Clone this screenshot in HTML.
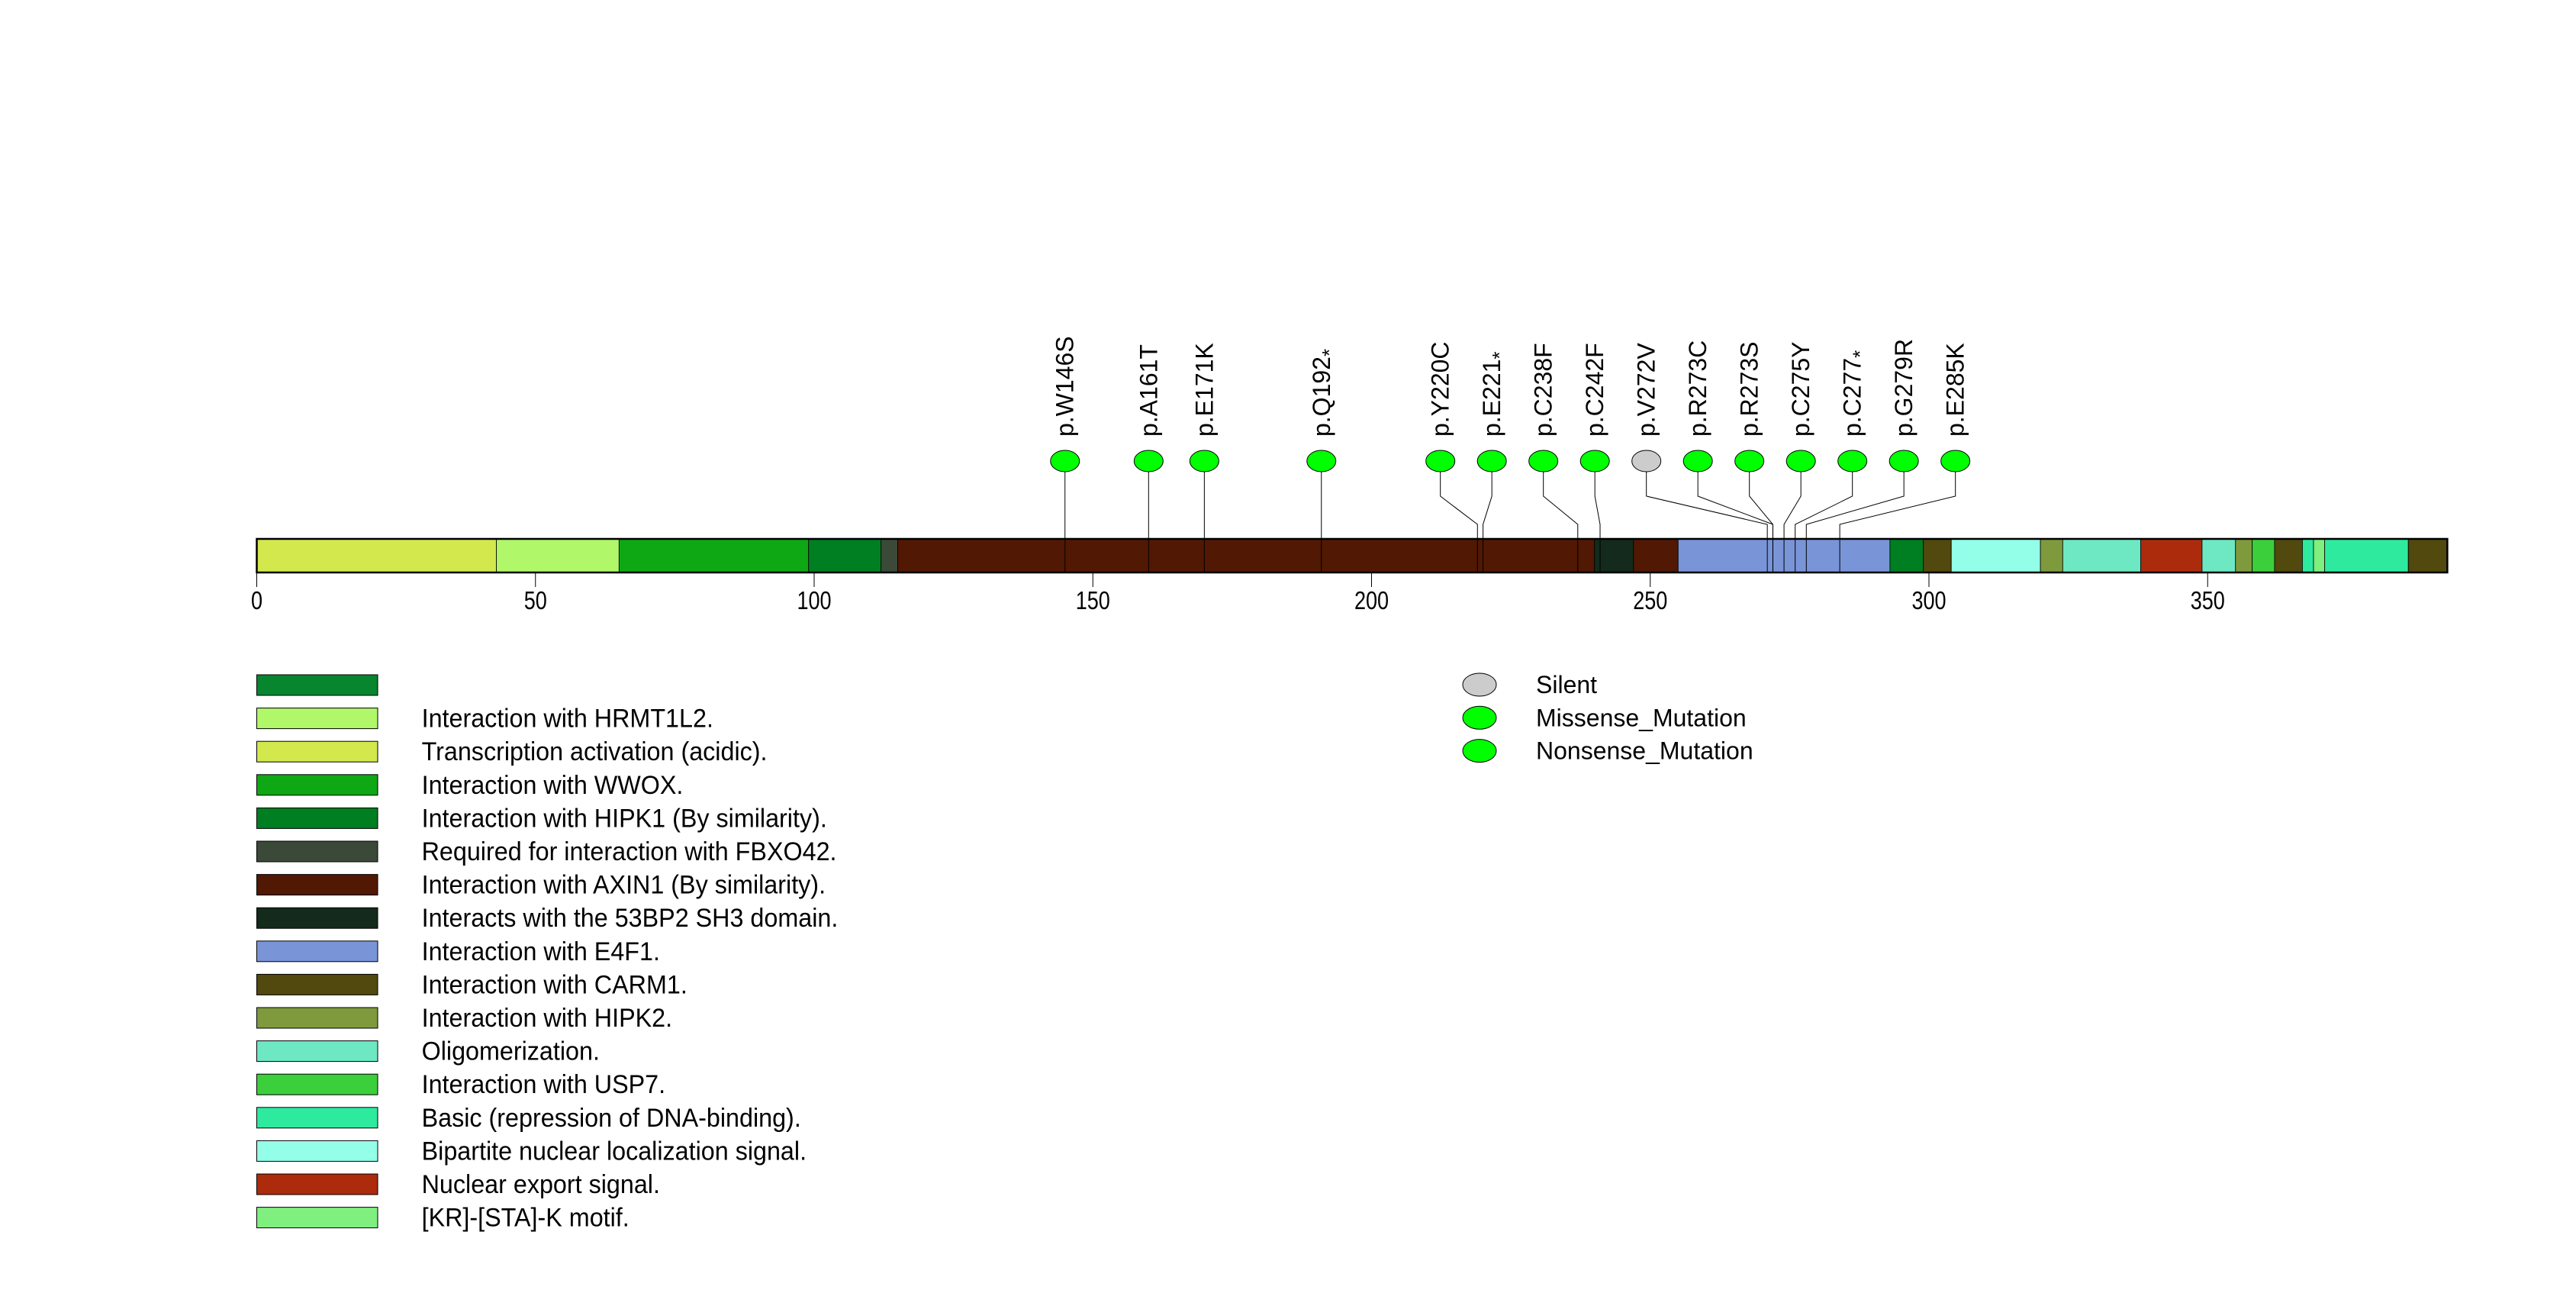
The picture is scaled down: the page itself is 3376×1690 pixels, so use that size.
<!DOCTYPE html>
<html><head><meta charset="utf-8"><style>
html,body{margin:0;padding:0;background:#fff;}
svg{display:block;}
text{font-family:"Liberation Sans",sans-serif;}
</style></head><body>
<svg id="chart" width="3376" height="1690" viewBox="0 0 3376 1690" xmlns="http://www.w3.org/2000/svg">
<g id="labels"></g>
<g id="bar"></g>
<g id="connectors"></g>
<g id="axis"></g>
<g id="circles"></g>
<g id="legend"></g>
<g id="legend2"></g>
</svg>
<script>
const proteinLength = 393;
const tickValues = [0, 50, 100, 150, 200, 250, 300, 350];
const segStarts = [0, 43, 65, 99, 112, 115, 240, 247, 255, 293, 299, 304, 320, 324, 338, 349, 355, 358, 362, 367, 369, 371, 386];
const segEnds   = [43, 65, 99, 112, 115, 240, 247, 255, 293, 299, 304, 320, 324, 338, 349, 355, 358, 362, 367, 369, 371, 386, 393];
const segColors = ["#d3e84c","#b0f76a","#0ea815","#007e22","#3b4a38","#511803","#132a1c","#511803","#7995d8","#007e22","#51490d","#94ffe8","#7e9a3d","#6de8c2","#ad2b0d","#6de8c2","#7e9a3d","#3ccf3c","#51490d","#2eea9e","#7fef7f","#2eea9e","#51490d"];
const mutNames = ["p.W146S","p.A161T","p.E171K","p.Q192","p.Y220C","p.E221","p.C238F","p.C242F","p.V272V","p.R273C","p.R273S","p.C275Y","p.C277","p.G279R","p.E285K"];
const mutPos = [146,161,171,192,220,221,238,242,272,273,273,275,277,279,285];
const mutType = ["Missense","Missense","Missense","Nonsense","Missense","Nonsense","Missense","Missense","Silent","Missense","Missense","Missense","Nonsense","Missense","Missense"];
const legendLabels = ["","Interaction with HRMT1L2.","Transcription activation (acidic).","Interaction with WWOX.","Interaction with HIPK1 (By similarity).","Required for interaction with FBXO42.","Interaction with AXIN1 (By similarity).","Interacts with the 53BP2 SH3 domain.","Interaction with E4F1.","Interaction with CARM1.","Interaction with HIPK2.","Oligomerization.","Interaction with USP7.","Basic (repression of DNA-binding).","Bipartite nuclear localization signal.","Nuclear export signal.","[KR]-[STA]-K motif."];
const legendColors = ["#07852f","#b0f76a","#d3e84c","#0ea815","#007e22","#3b4a38","#511803","#132a1c","#7995d8","#51490d","#7e9a3d","#6de8c2","#3ccf3c","#2eea9e","#94ffe8","#ad2b0d","#7fef7f"];
const typeLabels = ["Silent","Missense_Mutation","Nonsense_Mutation"];

const NS="http://www.w3.org/2000/svg";
const X0=336.5, PX=7.305, BT=706, BB=750;
const xs = v => X0 + v*PX;
const typeColor = t => t==="Silent" ? "#cccccc" : "#00ff00";
function mk(tag, attrs, parent){const e=document.createElementNS(NS,tag);for(const k in attrs)e.setAttribute(k,attrs[k]);parent.appendChild(e);return e;}
const G=id=>document.getElementById(id);

for(let i=0;i<segStarts.length;i++){
  const r=mk("rect",{x:xs(segStarts[i]),y:BT,width:xs(segEnds[i])-xs(segStarts[i]),height:BB-BT,fill:segColors[i],stroke:"#000","stroke-width":0.8},G("bar"));
  
  
}
const outline=mk("rect",{x:xs(0),y:BT,width:xs(proteinLength)-xs(0),height:BB-BT,fill:"none",stroke:"#000","stroke-width":2.5},G("bar"));



tickValues.forEach(v=>{
  const l=mk("line",{x1:xs(v),x2:xs(v),y1:BB,y2:769,stroke:"#000","stroke-width":1},G("axis"));
  
  
  const t=mk("text",{x:0,y:0,"text-anchor":"middle","font-size":33,transform:`translate(${xs(v)},798) scale(0.82,1)`},G("axis"));
  t.textContent=String(v);
  
  
});

const trueX = mutPos.map(p=>xs(p-1));
const SP=67.5;
let clusters = trueX.map((x,i)=>({idx:[i],sum:x}));
let changed=true;
function place(c){const n=c.idx.length;const m=c.sum/n;return m-(n-1)*SP/2;}
while(changed){
  changed=false;
  for(let i=0;i<clusters.length-1;i++){
    const a=clusters[i],b=clusters[i+1];
    const aEnd=place(a)+(a.idx.length-1)*SP;
    if(place(b)-aEnd<SP-0.01){
      clusters.splice(i,2,{idx:a.idx.concat(b.idx),sum:a.sum+b.sum});
      changed=true;break;
    }
  }
}
const labX=[];
clusters.forEach(c=>{const s=place(c);c.idx.forEach((k,j)=>labX[k]=s+j*SP);});

mutNames.forEach((name,i)=>{
  const lx=labX[i], tx=trueX[i];
  const pl=mk("polyline",{points:`${lx},618 ${lx},650 ${tx},687 ${tx},${BB}`,fill:"none",stroke:"#000","stroke-width":1},G("connectors"));
  
  
  const e=mk("ellipse",{cx:lx,cy:604,rx:19,ry:14,fill:typeColor(mutType[i]),stroke:"#000","stroke-width":1},G("circles"));
  
  
  const t=mk("text",{x:0,y:0,"font-size":32,transform:`translate(${lx+11},572) rotate(-90)`},G("labels"));
  t.textContent=name;
  if(mutType[i]==="Nonsense"){
    const s=mk("tspan",{"font-size":26,dy:8},t);
    s.textContent="*";
  }
  
  
});

legendLabels.forEach((lab,i)=>{
  const y=884+i*43.6;
  const r=mk("rect",{x:336.5,y:y,width:158.5,height:27,fill:legendColors[i],stroke:"#000","stroke-width":1},G("legend"));
  
  
  if(lab){
    const t=mk("text",{x:0,y:0,"font-size":34,transform:`translate(552.6,${y+25}) scale(0.95,1)`},G("legend"));
    t.textContent=lab;
    
    
  }
});

typeLabels.forEach((lab,i)=>{
  const y=897+i*43.3;
  const e=mk("ellipse",{cx:1939,cy:y,rx:22,ry:15,fill:i===0?"#cccccc":"#00ff00",stroke:"#000","stroke-width":1},G("legend2"));
  
  
  const t=mk("text",{x:2013,y:y+11,"font-size":32},G("legend2"));
  t.textContent=lab;
  
  
});
</script>
</body></html>
